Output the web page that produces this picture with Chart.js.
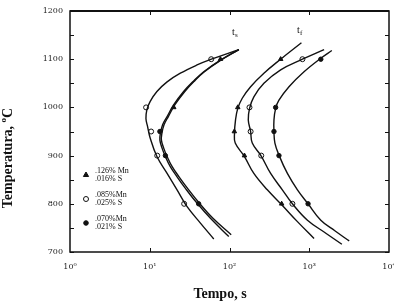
<!DOCTYPE html>
<html>
<head>
<meta charset="utf-8">
<script src="https://cdn.jsdelivr.net/npm/chart.js@4.4.1/dist/chart.umd.min.js"></script>
<style>
  html, body { margin: 0; padding: 0; background: #fff; }
</style>
</head>
<body>
<canvas id="chart" width="394" height="302"></canvas>
<script>
// axis ticks
const xTickValues = [1, 10, 100, 1000, 10000];
const xTickLabels = ['10⁰', '10¹', '10²', '10³', '10⁴'];
const yTickValues = [700, 800, 900, 1000, 1100, 1200];

// ts curves (start of transformation), time in s, temperature in C
const tsCircleTime = [131, 59.4, 39.2, 24.2, 16.5, 12.3, 10.1, 9.2, 8.96, 9.4, 10.1, 12.3, 16.5, 22, 29.4, 43.2, 63.5];
const tsCircleTemp = [1120, 1100, 1088, 1071, 1053, 1033, 1012, 995, 977, 960, 937, 898, 863, 829, 794, 760, 727];
const tsTriTime = [131, 77, 47.5, 35.6, 26.6, 19.9, 16.5, 14.5, 13.6, 13.4, 14.3, 15.7, 18.1, 22, 28, 39.3, 57.7, 98];
const tsTriTemp = [1120, 1098, 1074, 1055, 1033, 1005, 981, 964, 946, 932, 915, 898, 877, 856, 832, 801, 770, 732];
const tsStarTime = [131, 78, 48.5, 36.5, 27.5, 20.6, 17.1, 15.1, 14.2, 14.0, 15.0, 16.5, 19.1, 23.3, 29.8, 42, 62, 105];
const tsStarTemp = [1120, 1098, 1074, 1055, 1033, 1005, 981, 964, 946, 932, 915, 898, 877, 856, 832, 801, 770, 736];

// tf curves (end of transformation)
const tfTriTime = [798, 438, 270, 184, 144.5, 127, 119, 115.5, 118, 154, 202, 298, 451, 711, 1149];
const tfTriTemp = [1134, 1100, 1071, 1043, 1019, 998, 974, 946, 926, 898, 863, 829, 798, 763, 728];
const tfCircleTime = [1535, 821, 438, 270, 202, 178.5, 172, 184, 193, 250, 328, 460, 615, 949, 1614, 2564];
const tfCircleTemp = [1120, 1100, 1078, 1050, 1022, 998, 974, 950, 926, 899, 863, 829, 800, 766, 739, 716];
const tfStarTime = [1919, 1396, 860, 557, 417, 379, 361, 361, 371, 417, 532, 711, 966, 1396, 2093, 3169];
const tfStarTemp = [1118, 1102, 1074, 1043, 1015, 998, 974, 950, 926, 901, 863, 829, 800, 766, 744, 723];

// measured points
const circlePtTime = [59, 9, 10.4, 12.4, 27, 821, 178, 184, 250, 615];
const circlePtTemp = [1100, 1000, 950, 900, 800, 1100, 1000, 950, 900, 800];
const triPtTime = [77, 20, 438, 127, 115, 154, 451];
const triPtTemp = [1100, 1000, 1100, 1000, 950, 900, 800];
const starPtTime = [13.4, 15.7, 41, 1396, 379, 361, 417, 966];
const starPtTemp = [950, 900, 800, 1100, 1000, 950, 900, 800];

// legend
const legendLines = [['.126% Mn', '.016% S'], ['.085%Mn', '.025% S'], ['.070%Mn', '.021% S']];

const ink = '#111';

function pts(xs, ys) {
    return xs.map((x, i) => ({ x: x, y: ys[i] }));
}

function curve(xs, ys) {
    return {
        type: 'line',
        data: pts(xs, ys),
        borderColor: ink,
        borderWidth: 1.4,
        pointRadius: 0,
        tension: 0.4,
        fill: false
    };
}

function marks(xs, ys, style, fill, r) {
    return {
        type: 'scatter',
        data: pts(xs, ys),
        pointStyle: style,
        pointRadius: r,
        backgroundColor: fill,
        borderColor: ink,
        borderWidth: 1
    };
}

const serif = '"Liberation Serif", "DejaVu Serif", serif';
const tickSerif = '"DejaVu Serif", serif';

const decorPlugin = {
    id: 'decor',
    afterDraw(chart) {
        const ctx = chart.ctx;
        const a = chart.chartArea;
        const xs = chart.scales.x;
        const ys = chart.scales.y;
        ctx.save();
        ctx.strokeStyle = ink;
        ctx.fillStyle = ink;

        // frame
        ctx.lineWidth = 1.5;
        ctx.strokeRect(a.left, a.top, a.right - a.left, a.bottom - a.top);
        ctx.lineWidth = 2;
        ctx.beginPath();
        ctx.moveTo(a.left, a.top);
        ctx.lineTo(a.right, a.top);
        ctx.stroke();

        // inward ticks
        ctx.lineWidth = 1;
        ctx.beginPath();
        for (let t = 700; t <= 1200; t += 50) {
            const y = Math.round(ys.getPixelForValue(t)) + 0.5;
            ctx.moveTo(a.left, y); ctx.lineTo(a.left + 4, y);
            ctx.moveTo(a.right, y); ctx.lineTo(a.right - 4, y);
        }
        [10, 100, 1000].forEach(v => {
            const x = Math.round(xs.getPixelForValue(v)) + 0.5;
            ctx.moveTo(x, a.top); ctx.lineTo(x, a.top + 4);
            ctx.moveTo(x, a.bottom); ctx.lineTo(x, a.bottom - 4);
        });
        ctx.stroke();

        // x title
        ctx.font = 'bold 14px ' + serif;
        ctx.textAlign = 'center';
        ctx.textBaseline = 'alphabetic';
        ctx.fillText('Tempo, s', 220, 298);

        // y title with superscript o
        ctx.save();
        ctx.translate(12, 158);
        ctx.rotate(-Math.PI / 2);
        ctx.textAlign = 'left';
        ctx.font = 'bold 14px ' + serif;
        const main = 'Temperatura, ';
        const wMain = ctx.measureText(main).width;
        const wC = ctx.measureText('C').width;
        ctx.font = 'bold 9px ' + serif;
        const wO = ctx.measureText('o').width;
        let x = -(wMain + wO + wC) / 2;
        ctx.font = 'bold 14px ' + serif;
        ctx.fillText(main, x, 0);
        x += wMain;
        ctx.font = 'bold 9px ' + serif;
        ctx.fillText('o', x, -6);
        x += wO;
        ctx.font = 'bold 14px ' + serif;
        ctx.fillText('C', x, 0);
        ctx.restore();

        // curve group labels
        ctx.textAlign = 'left';
        ctx.font = '10px ' + serif;
        ctx.fillText('t', 232, 35);
        ctx.fillText('t', 297, 33);
        ctx.font = '7px ' + serif;
        ctx.fillText('s', 235, 37);
        ctx.fillText('f', 300, 35);

        // legend
        const rows = [175, 199, 223];
        ctx.font = '8px ' + serif;
        ctx.textBaseline = 'middle';
        legendLines.forEach((lines, i) => {
            ctx.fillText(lines[0], 95, rows[i] - 4);
            ctx.fillText(lines[1], 95, rows[i] + 4);
        });
        Chart.helpers.drawPoint(ctx, { pointStyle: 'triangle', radius: 3, rotation: 0, borderWidth: 1 }, 86, rows[0]);
        ctx.fillStyle = '#fff';
        Chart.helpers.drawPoint(ctx, { pointStyle: 'circle', radius: 2.5, rotation: 0, borderWidth: 1 }, 86, rows[1]);
        ctx.fillStyle = ink;
        Chart.helpers.drawPoint(ctx, { pointStyle: 'circle', radius: 2.3, rotation: 0, borderWidth: 1 }, 86, rows[2]);

        ctx.restore();
    }
};

new Chart(document.getElementById('chart'), {
    data: {
        datasets: [
            curve(tsCircleTime, tsCircleTemp),
            curve(tsTriTime, tsTriTemp),
            curve(tsStarTime, tsStarTemp),
            curve(tfTriTime, tfTriTemp),
            curve(tfCircleTime, tfCircleTemp),
            curve(tfStarTime, tfStarTemp),
            marks(circlePtTime, circlePtTemp, 'circle', '#fff', 2.5),
            marks(triPtTime, triPtTemp, 'triangle', ink, 2.6),
            marks(starPtTime, starPtTemp, 'circle', ink, 2.2)
        ]
    },
    options: {
        responsive: false,
        animation: false,
        layout: { padding: { top: 11, right: 5, left: 0, bottom: 0 } },
        plugins: {
            legend: { display: false },
            tooltip: { enabled: false }
        },
        scales: {
            x: {
                type: 'logarithmic',
                position: 'bottom',
                min: 1,
                max: 10000,
                grid: { display: false, drawTicks: false },
                border: { display: false },
                afterBuildTicks: s => { s.ticks = xTickValues.map(v => ({ value: v })); },
                afterFit: s => { s.height = 50; s.paddingLeft = 0; s.paddingRight = 0; },
                ticks: {
                    padding: 10,
                    autoSkip: false,
                    maxRotation: 0,
                    color: '#222',
                    font: { family: tickSerif, size: 8 },
                    callback: v => xTickLabels[xTickValues.indexOf(v)]
                }
            },
            y: {
                type: 'linear',
                min: 700,
                max: 1200,
                grid: { display: false, drawTicks: false },
                border: { display: false },
                afterBuildTicks: s => { s.ticks = yTickValues.map(v => ({ value: v })); },
                afterFit: s => { s.width = 70; s.paddingTop = 0; s.paddingBottom = 0; },
                ticks: {
                    padding: 7,
                    color: '#222',
                    font: { family: tickSerif, size: 8 },
                    callback: v => String(v)
                }
            }
        }
    },
    plugins: [decorPlugin]
});
</script>
</body>
</html>
